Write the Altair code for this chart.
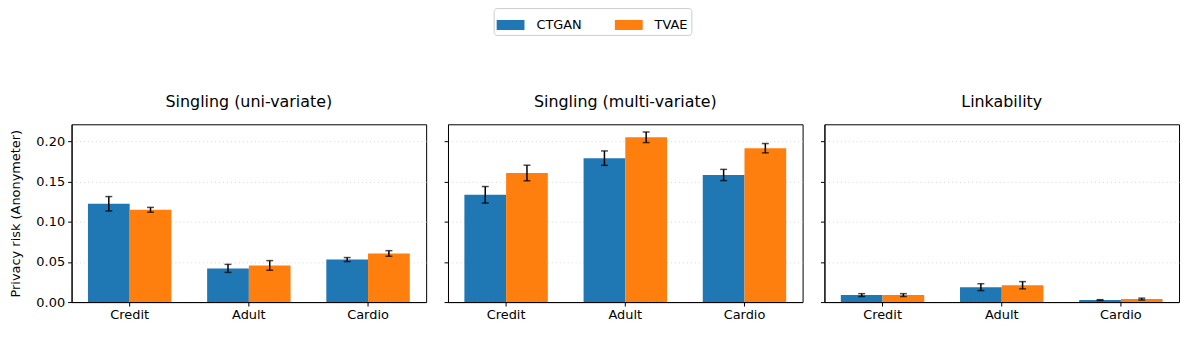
import altair as alt
import pandas as pd

panels = ["Singling (uni-variate)", "Singling (multi-variate)", "Linkability"]
datasets = ["Credit", "Adult", "Cardio"]
models = ["CTGAN", "TVAE"]

# values[panel][model] -> per dataset
ctgan_vals = [[0.1225, 0.042, 0.053], [0.1337, 0.1794, 0.1584], [0.0087, 0.0186, 0.0025]]
ctgan_errs = [[0.009, 0.005, 0.0025], [0.0103, 0.009, 0.007], [0.0018, 0.0043, 0.0005]]
tvae_vals = [[0.115, 0.0457, 0.0606], [0.1609, 0.2054, 0.1918], [0.0087, 0.021, 0.0037]]
tvae_errs = [[0.003, 0.006, 0.0035], [0.0097, 0.0066, 0.0058], [0.0018, 0.0045, 0.0012]]

rows = []
for pi, p in enumerate(panels):
    for di, d in enumerate(datasets):
        rows.append(dict(panel=p, dataset=d, model="CTGAN", value=ctgan_vals[pi][di],
                         lo=ctgan_vals[pi][di] - ctgan_errs[pi][di], hi=ctgan_vals[pi][di] + ctgan_errs[pi][di]))
        rows.append(dict(panel=p, dataset=d, model="TVAE", value=tvae_vals[pi][di],
                         lo=tvae_vals[pi][di] - tvae_errs[pi][di], hi=tvae_vals[pi][di] + tvae_errs[pi][di]))
df = pd.DataFrame(rows)

FONT = "DejaVu Sans"
ydomain = [0, 0.2216]
yticks = [0, 0.05, 0.1, 0.15, 0.2]

def panel(name, first, show_legend):
    base = alt.Chart(df[df.panel == name])
    x = alt.X("dataset:N", sort=datasets, title=None,
              scale=alt.Scale(paddingInner=0.3, paddingOuter=0.1375),
              axis=alt.Axis(labelAngle=0, labelFontSize=13, labelColor="black", tickColor="black",
                            domainColor="black", tickSize=4, labelPadding=3))
    xo = alt.XOffset("model:N", sort=models, scale=alt.Scale(paddingInner=0, paddingOuter=0))
    yaxis = alt.Axis(values=yticks, format=".2f", labels=first, labelFontSize=13, labelColor="black",
                     tickColor="black", domainColor="black", tickSize=4, labelPadding=3,
                     grid=True, gridColor="#cccccc", gridDash=[1, 3], gridWidth=0.8,
                     title="Privacy risk (Anonymeter)" if first else None,
                     titleFontSize=13, titleFontWeight="normal", titleColor="black", titlePadding=13)
    y = alt.Y("value:Q", scale=alt.Scale(domain=ydomain, nice=False, zero=True), axis=yaxis)
    legend = alt.Legend(title=None, orient="none", legendX=425, legendY=-117, direction="horizontal",
                        columns=2, columnPadding=33, labelFontSize=13, labelColor="black",
                        symbolType="M-1,-0.36H1V0.36H-1Z", symbolSize=784, symbolStrokeWidth=0,
                        labelOffset=12, strokeColor="#cccccc", cornerRadius=3, padding=3,
                        fillColor="white") if show_legend else None
    bars = base.mark_bar().encode(
        x=x, xOffset=xo, y=y,
        color=alt.Color("model:N", sort=models,
                        scale=alt.Scale(domain=models, range=["#1f77b4", "#ff7f0e"]),
                        legend=legend))
    rules = base.mark_rule(color="black", strokeWidth=1.5).encode(
        x=x, xOffset=xo, y=alt.Y("lo:Q"), y2="hi:Q")
    caps_lo = base.mark_tick(color="black", thickness=1.5, size=7, orient="horizontal").encode(
        x=x, xOffset=xo, y=alt.Y("lo:Q"))
    caps_hi = base.mark_tick(color="black", thickness=1.5, size=7, orient="horizontal").encode(
        x=x, xOffset=xo, y=alt.Y("hi:Q"))
    return alt.layer(bars, rules, caps_lo, caps_hi).properties(
        width=357, height=179,
        title=alt.TitleParams(name, fontSize=16, fontWeight="normal", color="black", offset=14, font=FONT))

chart = alt.hconcat(
    panel(panels[0], True, True),
    panel(panels[1], False, False),
    panel(panels[2], False, False),
    spacing=16,
).resolve_scale(y="shared", color="shared").configure(font=FONT).configure_view(
    stroke="black", strokeWidth=1
).properties(padding={"left": 1, "top": -2, "right": 2, "bottom": 2})

chart.save("out.html", embed_options={"renderer": "svg", "actions": False})
